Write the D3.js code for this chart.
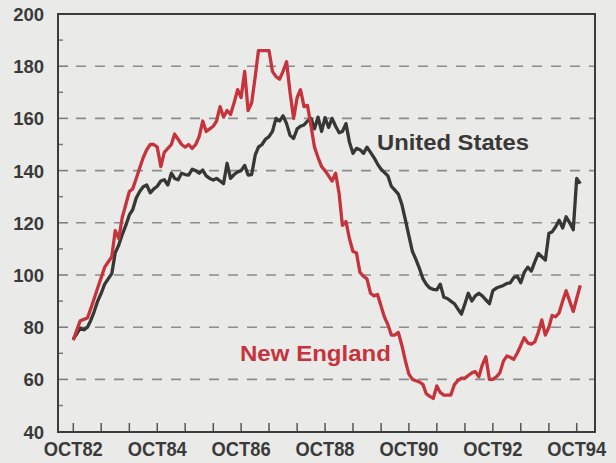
<!DOCTYPE html>
<html>
<head>
<meta charset="utf-8">
<script src="https://cdn.jsdelivr.net/npm/d3@7"></script>
<style>
  body { margin: 0; background: #e9e9e6; }
  text { font-family: "Liberation Sans", Arial, sans-serif; font-weight: bold; }
</style>
</head>
<body>
<div id="chart"></div>
<script>
// monthly index values, starting OCT82
const startMonth = new Date(1982, 9, 1);

const newEngland = [
  75, 79, 82.5, 83, 83.5, 87, 91, 95, 99, 103, 105, 107,
  117, 114, 122, 127, 132, 133, 137, 141, 145, 148, 150, 150,
  149, 141.5, 147, 148.5, 150, 154, 152, 150, 149, 150, 148.5, 150,
  153, 159, 155, 156, 157, 159, 164.5, 160.5, 163, 161.5, 166, 171,
  168, 178, 163, 166, 176, 186, 186, 186, 186, 178, 176, 175,
  178, 181.7, 170, 160, 168, 171, 164.5, 165, 157, 149, 145, 141.5,
  140, 138, 136, 139, 131, 119, 120.5, 114, 109, 108.5, 101, 99.5,
  98.5, 93, 92, 92.5, 88, 84, 81, 77, 77, 78, 73, 67,
  62, 60, 59.5, 59, 58, 54.5, 53.5, 52.7, 57.5, 55, 54, 54,
  54, 58, 59.5, 60.5, 60.5, 61.5, 62.5, 63, 61, 65.5, 68.7, 60,
  60, 61, 62.5, 67, 69, 68.5, 67.7, 70, 73, 76, 74, 73.5,
  74.4, 78, 82.8, 77, 80, 84.5, 84, 85.5, 90, 94, 90, 86,
  91, 96
];

const unitedStates = [
  75.5, 77.5, 79.6, 79, 80, 82.5, 86, 90, 93, 96.5, 98.5, 100.5,
  108.5, 111.5, 115.5, 119, 123, 125, 129.5, 132, 133.8, 134.5, 131.5, 133,
  134, 136, 136.5, 134.5, 139, 137, 136.5, 139, 138.5, 138.3, 140.5, 140,
  139, 140.2, 138, 137, 136.4, 137, 136, 135, 142.8, 137, 138.5, 139.5,
  140, 142, 138.3, 138.5, 146, 149, 150, 152, 153, 155, 160, 159,
  161, 158, 153.5, 152.3, 156, 157, 157.5, 159, 160, 156, 160.5, 155,
  160.3, 156.5, 160, 157, 154.5, 155, 158, 151, 146.6, 148.5, 148, 146.6,
  149, 147, 145, 142.5, 140.5, 139.3, 138, 134, 132.5, 131, 127, 121,
  115, 109, 106, 102.5, 98.5, 96.5, 95, 94.5, 94.3, 96.5, 91.5, 91,
  90, 89, 87, 85, 89, 93, 90, 92, 93, 92, 90.5, 89,
  94, 95, 95.5, 96, 96.8, 97, 99, 99.5, 97, 101, 103, 101.5,
  105, 108.3, 107, 105.7, 116, 116.5, 118.5, 121, 118, 122.3, 120, 117.3,
  137, 135
];

const yTicks = [40, 60, 80, 100, 120, 140, 160, 180, 200];
const xLabels = ["OCT82", "OCT84", "OCT86", "OCT88", "OCT90", "OCT92", "OCT94"];

const width = 616;
const height = 463;
const plotLeft = 58, plotRight = 595, plotTop = 14, plotBottom = 432;

const svg = d3.select("#chart")
    .append("svg")
    .attr("width", width)
    .attr("height", height)
    .style("display", "block");

svg.append("rect")
    .attr("width", width)
    .attr("height", height)
    .attr("fill", "#eaeae8");

const x = d3.scaleTime()
    .domain([startMonth, d3.timeMonth.offset(startMonth, 144)])
    .range([73.3, 576.7]);

const y = d3.scaleLinear()
    .domain([40, 200])
    .range([431.6, 14]);

// dashed grid
svg.append("g")
    .selectAll("line")
    .data(yTicks.filter(d => d > 40 && d < 200))
    .join("line")
        .attr("x1", plotLeft + 11)
        .attr("x2", plotRight)
        .attr("y1", d => y(d))
        .attr("y2", d => y(d))
        .attr("stroke", "#8c8c8c")
        .attr("stroke-width", 1.6)
        .attr("stroke-dasharray", "10 9")
        .attr("stroke-dashoffset", -7);

// left axis ticks, major + minor
svg.append("g")
    .selectAll("line")
    .data(d3.range(50, 200, 10))
    .join("line")
        .attr("x1", plotLeft)
        .attr("x2", d => d % 20 === 0 ? plotLeft + 10 : plotLeft + 5)
        .attr("y1", d => y(d))
        .attr("y2", d => y(d))
        .attr("stroke", "#7a7a7a")
        .attr("stroke-width", 1.5);

// bottom ticks every 8 months
const tickDates = d3.range(0, 145, 8).map(m => d3.timeMonth.offset(startMonth, m));
svg.append("g")
    .selectAll("line")
    .data(tickDates)
    .join("line")
        .attr("x1", d => x(d))
        .attr("x2", d => x(d))
        .attr("y1", plotBottom)
        .attr("y2", plotBottom - 9)
        .attr("stroke", "#555")
        .attr("stroke-width", 1.5);

// frame
svg.append("rect")
    .attr("x", plotLeft)
    .attr("y", plotTop)
    .attr("width", plotRight - plotLeft)
    .attr("height", plotBottom - plotTop)
    .attr("fill", "none")
    .attr("stroke", "#3c3c3c")
    .attr("stroke-width", 2);

// y labels
svg.append("g")
    .selectAll("text")
    .data(yTicks)
    .join("text")
        .attr("x", 44)
        .attr("y", d => y(d) + 7)
        .attr("text-anchor", "end")
        .attr("font-size", 18.5)
        .attr("fill", "#3a3a3a")
        .text(d => d);

// x labels
svg.append("g")
    .selectAll("text")
    .data(xLabels)
    .join("text")
        .attr("x", (d, i) => x(d3.timeMonth.offset(startMonth, i * 24)))
        .attr("y", 456)
        .attr("text-anchor", "middle")
        .attr("font-size", 20)
        .attr("textLength", 59)
        .attr("lengthAdjust", "spacingAndGlyphs")
        .attr("fill", "#3a3a3a")
        .text(d => d);

const lineFunction = d3.line()
    .x((d, i) => x(d3.timeMonth.offset(startMonth, i)))
    .y(d => y(d));

svg.append("path")
    .datum(unitedStates)
    .attr("d", lineFunction)
    .attr("fill", "none")
    .attr("stroke", "#373734")
    .attr("stroke-width", 3.3)
    .attr("stroke-linejoin", "round");

svg.append("path")
    .datum(newEngland)
    .attr("d", lineFunction)
    .attr("fill", "none")
    .attr("stroke", "#c5343c")
    .attr("stroke-width", 3.3)
    .attr("stroke-linejoin", "round");

// series labels
svg.append("text")
    .attr("x", 377)
    .attr("y", 150)
    .attr("font-size", 22)
    .attr("textLength", 152)
    .attr("lengthAdjust", "spacingAndGlyphs")
    .attr("fill", "#383836")
    .text("United States");

svg.append("text")
    .attr("x", 240)
    .attr("y", 361)
    .attr("font-size", 22)
    .attr("textLength", 151)
    .attr("lengthAdjust", "spacingAndGlyphs")
    .attr("fill", "#c5343c")
    .text("New England");
</script>
</body>
</html>
